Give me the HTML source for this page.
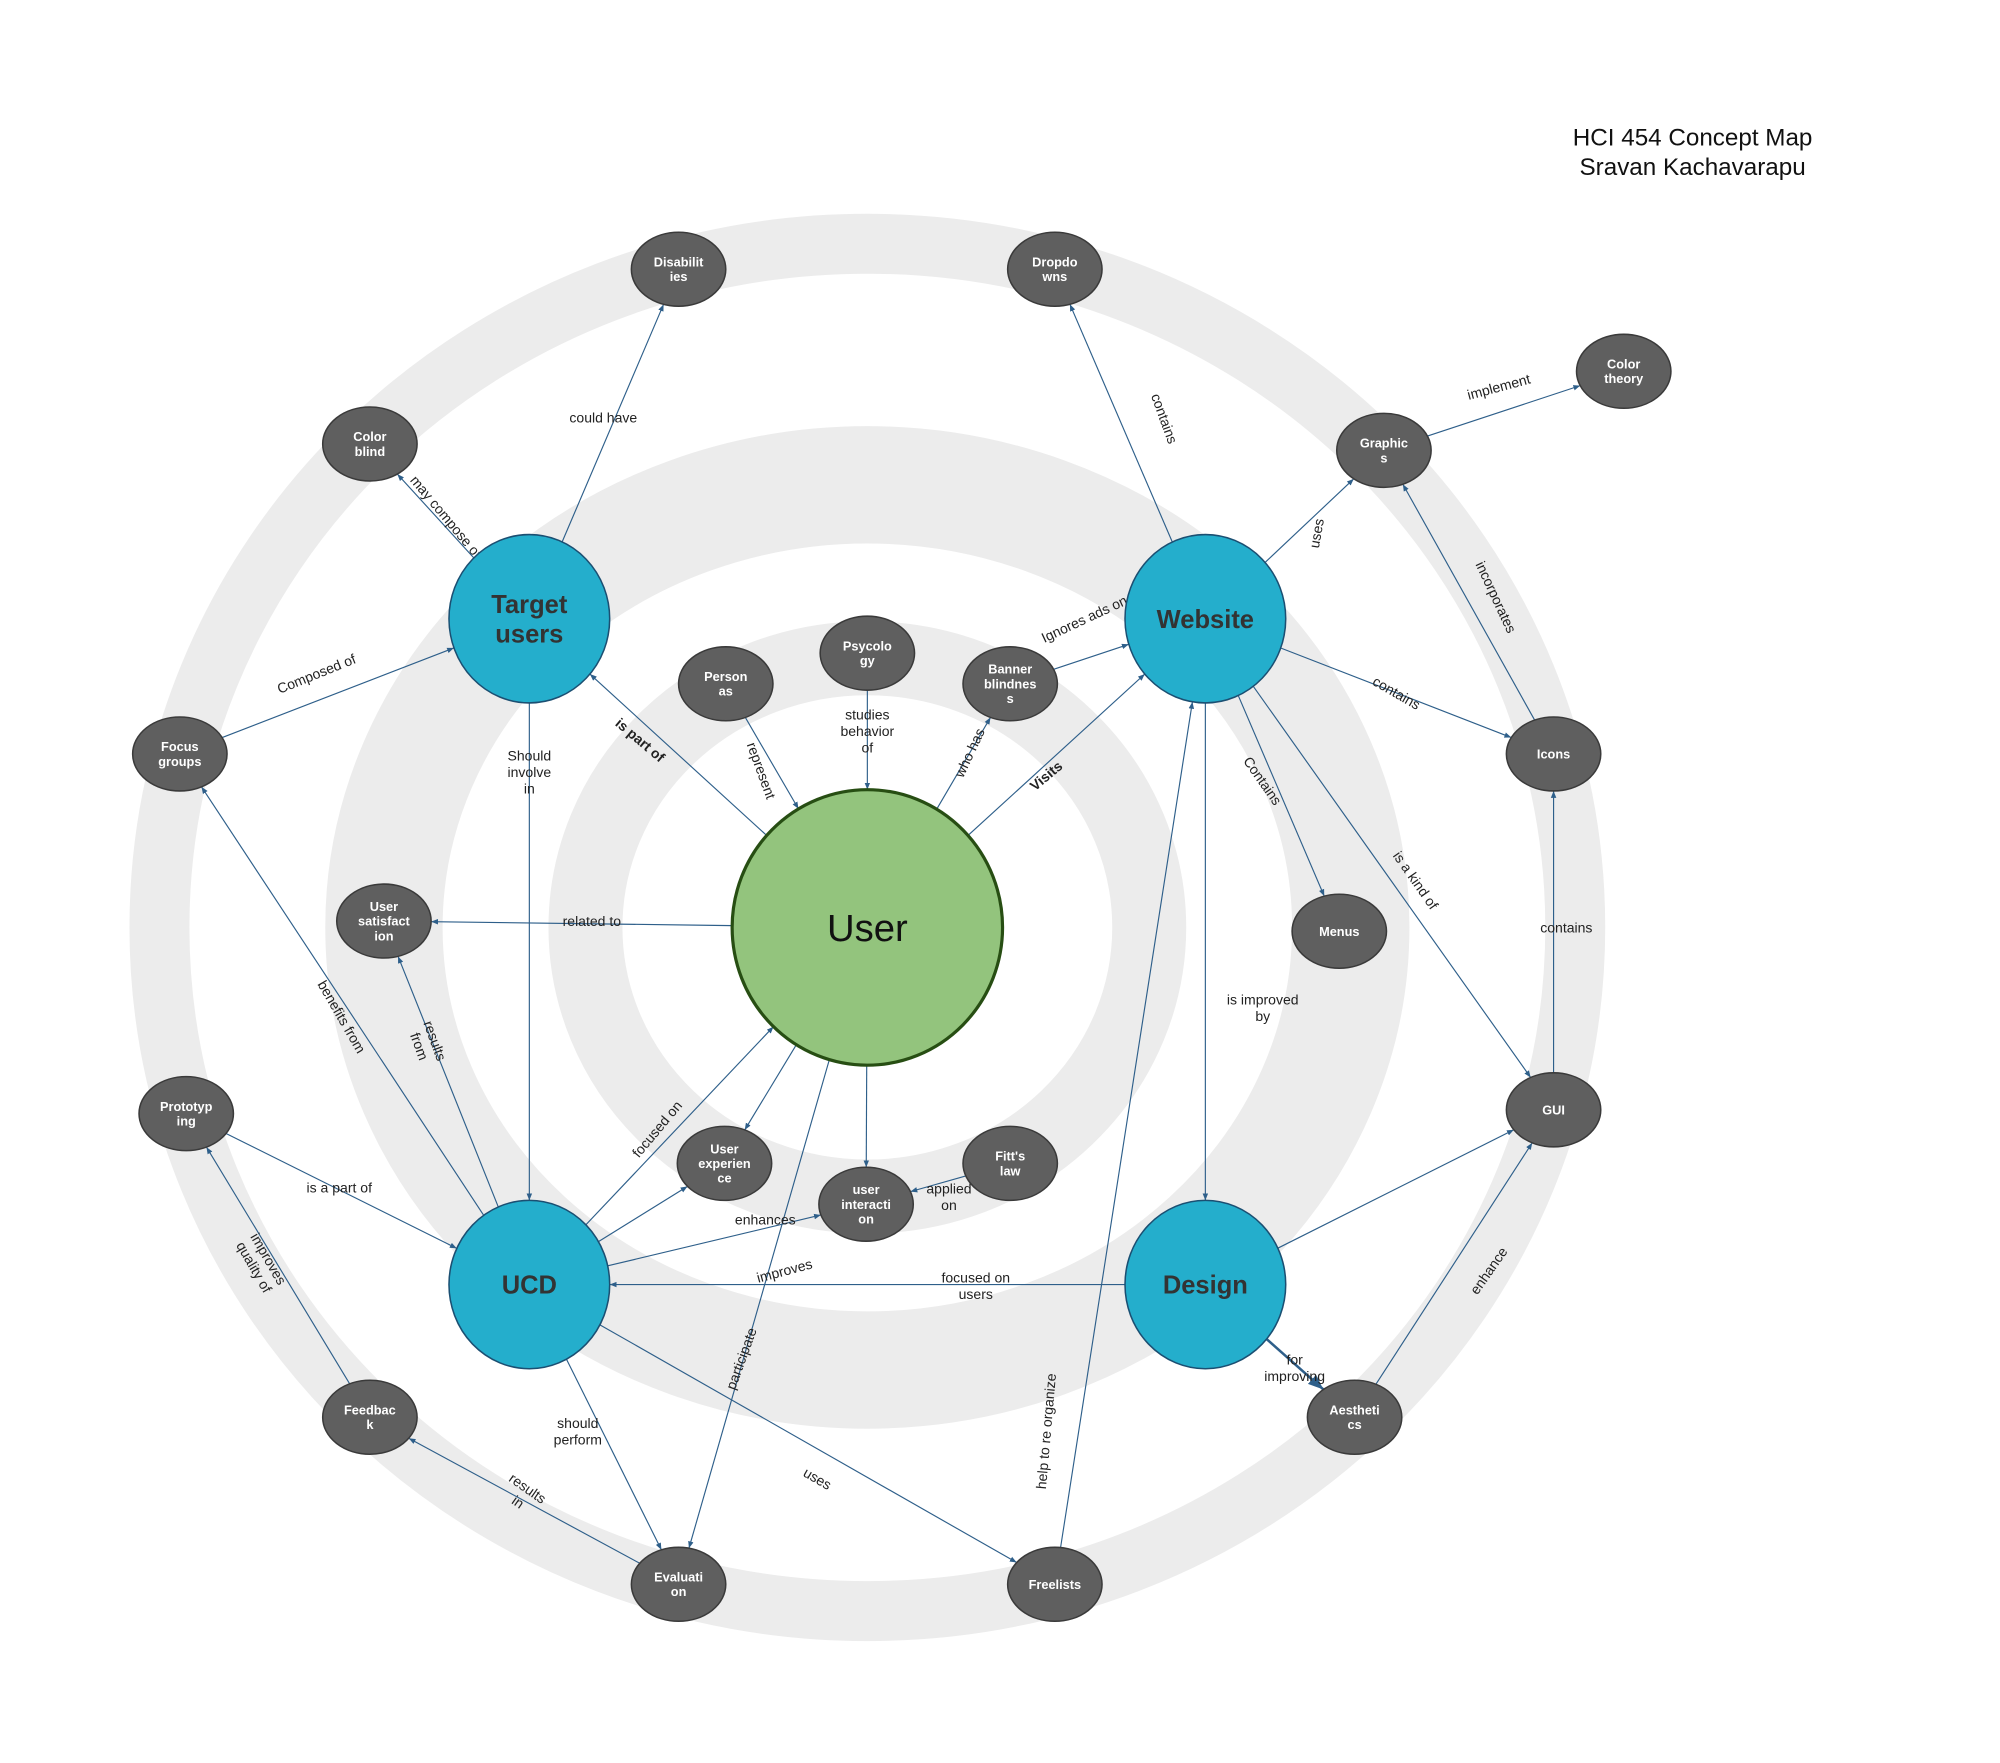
<!DOCTYPE html>
<html><head><meta charset="utf-8"><title>HCI 454 Concept Map</title>
<style>
html,body{margin:0;padding:0;background:#fff;}
svg{display:block;font-family:"Liberation Sans",Arial,sans-serif;}
</style></head>
<body>
<svg id="map" width="2000" height="1763" viewBox="0 0 1568 1382" xmlns="http://www.w3.org/2000/svg">
<defs>
<marker id="arr" viewBox="0 0 10 10" refX="10" refY="5" markerWidth="6" markerHeight="6" orient="auto-start-reverse"><path d="M0,1 L10,5 L0,9 z" fill="#2e5f8a"/></marker>
</defs>
<rect width="1568" height="1382" fill="#fff"/>
<g id="rings">
<ellipse cx="680" cy="727" rx="555" ry="536" fill="none" stroke="#ececec" stroke-width="47"/>
<ellipse cx="680" cy="727" rx="379" ry="347" fill="none" stroke="#ececec" stroke-width="92"/>
<ellipse cx="680" cy="727" rx="221" ry="211" fill="none" stroke="#ececec" stroke-width="58"/>
</g>
<g id="edges"></g>
<g id="labels"></g>
<g id="nodes"></g>
<text x="1327" y="114" font-size="19" text-anchor="middle" fill="#111">HCI 454 Concept Map</text>
<text x="1327" y="137" font-size="19" text-anchor="middle" fill="#111">Sravan Kachavarapu</text>
</svg>
<script>
const NS="http://www.w3.org/2000/svg";
const nodeNames=["User","Target users","Website","UCD","Design","Disabilit|ies","Dropdo|wns","Color|theory","Graphic|s","Color|blind","Person|as","Psycolo|gy","Banner|blindnes|s","Focus|groups","Icons","User|satisfact|ion","Menus","Prototyp|ing","GUI","User|experien|ce","Fitt's|law","user|interacti|on","Feedbac|k","Aestheti|cs","Evaluati|on","Freelists"];
const nodeX=[680,415,945,415,945,532,827,1273,1085,290,569,680,792,141,1218,301,1050,146,1218,568,792,679,290,1062,532,827];
const nodeY=[727,485,485,1007,1007,211,211,291,353,348,536,512,536,591,591,722,730,873,870,912,912,944,1111,1111,1242,1242];
const nodeKind=["main","topic","topic","topic","topic","leaf","leaf","leaf","leaf","leaf","leaf","leaf","leaf","leaf","leaf","leaf","leaf","leaf","leaf","leaf","leaf","leaf","leaf","leaf","leaf","leaf"];
// edges: from, to, label, label x, label y, rotation, bold
const edgeFrom=[0,10,11,0,0,12,1,1,13,1,0,3,3,17,3,0,3,0,20,3,0,3,3,25,4,2,4,4,23,18,14,2,8,2,2,2,2,22,24];
const edgeTo  =[1,0,0,12,2,2,5,9,1,3,15,15,13,3,0,19,19,21,21,21,24,24,25,2,3,4,18,23,18,14,8,8,7,6,14,16,18,17,22];
const edgeLabel=["is part of","represent","studies|behavior|of","who has","Visits","Ignores ads on","could have","may compose of","Composed of","Should|involve|in","related to","results|from","benefits from","is a part of","focused on","","enhances","","applied|on","improves","participate","should|perform","uses","help to re organize","focused on|users","is improved|by","","for|improving","enhance","contains","incorporates","uses","implement","contains","contains","Contains","is a kind of","improves|quality of","results|in"];
const labelX=[502,597,680,760,820,850,473,350,248,415,464,335,268,266,515,0,600,0,744,615,581,453,641,820,765,990,0,1015,1167,1228,1173,1032,1175,913,1095,990,1110,205,410];
const labelY=[580,604,573,590,608,485,327,405,528,605,722,818,797,931,885,0,956,0,938,996,1065,1122,1159,1122,1008,790,0,1072,996,727,468,418,303,328,543,612,690,990,1172];
const labelRot=[40,70,0,-65,-40,-25,0,50,-22,0,0,70,60,0,-50,0,0,0,0,-15,-70,0,30,-85,0,0,0,0,-55,0,65,-80,-15,70,30,55,55,60,35];
const labelBold=[1,0,0,0,1,0,0,0,0,0,0,0,0,0,0,0,0,0,0,0,0,0,0,0,0,0,0,0,0,0,0,0,0,0,0,0,0,0,0];

function radii(i){const k=nodeKind[i];return k==="main"?[106,108]:k==="topic"?[63,66]:[37,29];}
function clip(i,dx,dy){const [rx,ry]=radii(i);const t=1/Math.sqrt((dx/rx)**2+(dy/ry)**2);return [nodeX[i]+dx*t,nodeY[i]+dy*t];}
function mk(tag,attrs,parent){const e=document.createElementNS(NS,tag);for(const k in attrs)e.setAttribute(k,attrs[k]);parent.appendChild(e);return e;}
const gE=document.getElementById('edges'),gL=document.getElementById('labels'),gN=document.getElementById('nodes');
for(let j=0;j<edgeFrom.length;j++){
  const a=edgeFrom[j],b=edgeTo[j];const dx=nodeX[b]-nodeX[a],dy=nodeY[b]-nodeY[a];
  const p=clip(a,dx,dy),q=clip(b,-dx,-dy);
  const l=mk('line',{x1:p[0],y1:p[1],x2:q[0],y2:q[1],stroke:'#2e5f8a','stroke-width':(j===27?2:0.9),'marker-end':'url(#arr)'},gE);
  
  
  if(edgeLabel[j]){
    const lines=edgeLabel[j].split('|');
    const t=mk('text',{x:labelX[j],y:labelY[j],'font-size':11,'text-anchor':'middle',fill:'#222','font-weight':labelBold[j]?'bold':'normal',transform:'rotate('+labelRot[j]+' '+labelX[j]+' '+labelY[j]+')'},gL);
    
    
    const y0=-(lines.length-1)*6.5+4;
    lines.forEach((s,k)=>{const ts=mk('tspan',{x:labelX[j],y:labelY[j]+y0+k*13},t);ts.textContent=s;});
  }
}
for(let i=0;i<nodeNames.length;i++){
  const [rx,ry]=radii(i);const k=nodeKind[i];
  const g=mk('g',{},gN);
  
  
  const fill=k==="main"?'#93c47d':k==="topic"?'#24aecc':'#5f5f5f';
  const stroke=k==="main"?'#274e13':k==="topic"?'#1b4f72':'#3a3a3a';
  mk('ellipse',{cx:nodeX[i],cy:nodeY[i],rx:rx,ry:ry,fill:fill,stroke:stroke,'stroke-width':k==="main"?2.5:1.2},g);
  let lines=nodeNames[i].split('|'),fs=10,lh=11.5,col='#fff',fw='bold';
  if(k==="main"){fs=30;lh=34;col='#111';fw='normal';}
  if(k==="topic"){lines=nodeNames[i]==="Target users"?["Target","users"]:[nodeNames[i]];fs=20;lh=23;col='#333';}
  const t=mk('text',{'font-size':fs,'text-anchor':'middle',fill:col,'font-weight':fw},g);
  const y0=nodeY[i]-(lines.length-1)*lh/2+fs*0.36;
  lines.forEach((s,n)=>{const ts=mk('tspan',{x:nodeX[i],y:y0+n*lh},t);ts.textContent=s;});
}
</script>
</body></html>
